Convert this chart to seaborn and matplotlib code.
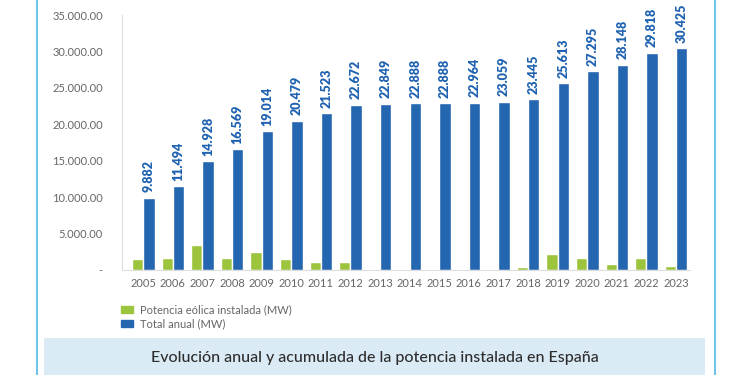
import matplotlib
matplotlib.use("Agg")
import matplotlib.pyplot as plt
import matplotlib.patches as mpatches
import seaborn as sns
import pandas as pd

years = [str(y) for y in range(2005, 2024)]
eolica = [1500, 1612, 3434, 1641, 2445, 1465, 1044, 1149, 177, 39, 0,
          76, 95, 386, 2168, 1682, 853, 1670, 607]
total = [9882, 11494, 14928, 16569, 19014, 20479, 21523, 22672, 22849, 22888,
         22888, 22964, 23059, 23445, 25613, 27295, 28148, 29818, 30425]
series_names = ["Potencia eólica instalada (MW)", "Total anual (MW)"]
yticks = [0, 5000, 10000, 15000, 20000, 25000, 30000, 35000]
ytick_labels = ["-", "5.000.00", "10.000.00", "15.000.00", "20.000.00",
                "25.000.00", "30.000.00", "35.000.00"]
caption = "Evolución anual y acumulada de la potencia instalada en España"

green = "#9cc43c"
blue = "#2566b0"
label_blue = "#1f62b0"
border = "#6ec3e6"

df = pd.DataFrame({
    "year": years * 2,
    "value": eolica + total,
    "serie": [series_names[0]] * len(years) + [series_names[1]] * len(years),
})

sns.set_style("white")
plt.rcParams["font.family"] = ["Lato", "DejaVu Sans"]

fig = plt.figure(figsize=(7.5, 3.75), dpi=100)
ax = fig.add_axes([0.163, 0.28, 0.757, 0.68])

sns.barplot(data=df, x="year", y="value", hue="serie",
            palette=[green, blue], width=0.76, saturation=1,
            ax=ax, legend=False)

# value labels on the total bars
for i, v in enumerate(total):
    ax.annotate(f"{v:,}".replace(",", "."), (i + 0.19, v), xytext=(0, 4),
                textcoords="offset points", rotation=90, ha="center",
                va="bottom", color=label_blue, fontsize=9,
                fontweight="heavy", annotation_clip=False)

ax.set_ylim(0, 35000)
ax.set_xlim(-0.71, len(years) - 0.53)
ax.set_yticks(yticks)
ax.set_yticklabels(ytick_labels)
ax.set_xlabel("")
ax.set_ylabel("")
ax.tick_params(axis="both", length=0, colors="#666666", labelsize=8)
ax.tick_params(axis="y", pad=14)
ax.tick_params(axis="x", pad=6)
for s in ["top", "right"]:
    ax.spines[s].set_visible(False)
for s in ["left", "bottom"]:
    ax.spines[s].set_color("#dddddd")
    ax.spines[s].set_linewidth(0.8)

handles = [mpatches.Patch(color=green, label=series_names[0]),
           mpatches.Patch(color=blue, label=series_names[1])]
fig.legend(handles=handles, loc="upper left",
           bbox_to_anchor=(0.148, 0.215), frameon=False, fontsize=8,
           handlelength=1.1, handleheight=0.55, labelspacing=0.25,
           handletextpad=0.6, labelcolor="#666666")

# frame border lines and caption box
fig.add_artist(plt.Line2D([0.049, 0.049], [0, 1], color=border, lw=1.5,
                          transform=fig.transFigure))
fig.add_artist(plt.Line2D([0.953, 0.953], [0, 1], color=border, lw=1.5,
                          transform=fig.transFigure))
fig.add_artist(mpatches.Rectangle((0.058, 0), 0.882, 0.10,
                                  transform=fig.transFigure,
                                  facecolor="#dbebf6", edgecolor="none"))
fig.text(0.5, 0.045, caption, ha="center", va="center", fontsize=11.5,
         color="#2d2d2d", fontweight="medium")

fig.savefig("out.png", dpi=100)
